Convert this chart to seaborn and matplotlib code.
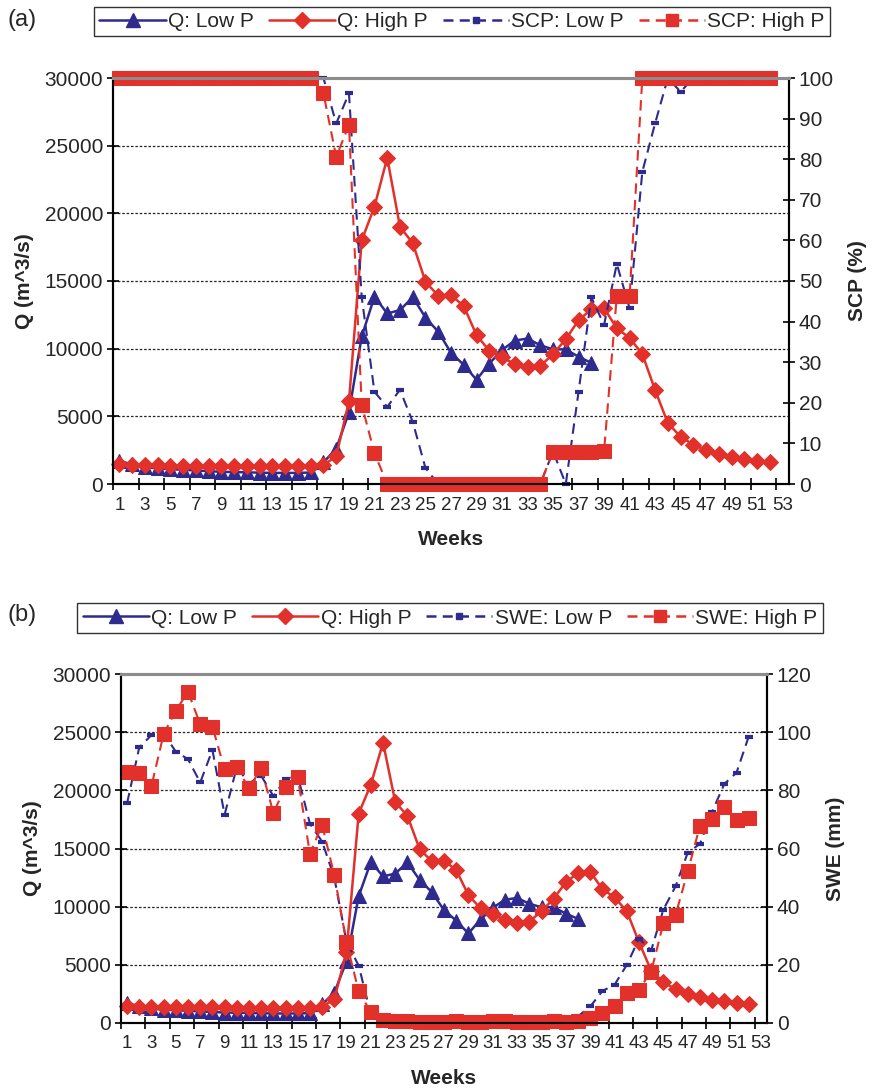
import numpy as np
import pandas as pd
import matplotlib
matplotlib.use("Agg")
import matplotlib.pyplot as plt
from matplotlib.lines import Line2D
import seaborn as sns

# ---------------- data ----------------
weeks = list(range(1, 53))
weeks_low = list(range(1, 39))
xtick_labels = [str(w) for w in range(1, 54, 2)]

q_low = [1700, 1450, 1250, 1150, 1100, 1050, 1000, 950, 900, 880, 860, 840, 820, 820, 820, 850,
         1600, 2600, 5300, 10900, 13850, 12600, 12850, 13800, 12300, 11250, 9700, 8800, 7700,
         8900, 9900, 10600, 10750, 10250, 9950, 9950, 9400, 8950]
q_high = [1450, 1400, 1380, 1370, 1360, 1350, 1350, 1340, 1340, 1330, 1330, 1320, 1320, 1320, 1320, 1320,
          1400, 2050, 6100, 18000, 20500, 24100, 19000, 17800, 14950, 13900, 13950, 13150, 11000,
          9850, 9350, 8870, 8620, 8720, 9600, 10700, 12100, 12900, 13000, 11500, 10800, 9600,
          6950, 4500, 3500, 2900, 2500, 2200, 2000, 1850, 1700, 1600]
scp_low = [100, 100, 100, 100, 100, 100, 100, 100, 100, 100, 100, 100, 100, 100, 100, 100, 100,
           88.8, 96.2, 46, 22.7, 19, 23.2, 15.3, 3.9, 0, 0, 0, 0, 0, 0, 0, 0, 0, 8, 0,
           22.7, 46, 39.2, 54.2, 43.3, 76.9, 88.8, 100, 96.6, 100, 100, 100, 100, 100, 100, 100]
scp_high = [100, 100, 100, 100, 100, 100, 100, 100, 100, 100, 100, 100, 100, 100, 100, 100,
            96.2, 80.6, 88.4, 19.5, 7.6, 0, 0, 0, 0, 0, 0, 0, 0, 0, 0, 0, 0, 0,
            8, 8, 7.8, 7.8, 8.1, 46.3, 46.3, 100, 100, 100, 100, 100, 100, 100, 100, 100, 100, 100]
swe_low = [75.6, 94.8, 99, 99.5, 93.3, 90.7, 82.7, 93.9, 71.6, 88, 82.4, 85, 78, 83.8, 85, 68.5,
           62.4, 50, 28, 19.7, 3, 0.5, 0.3, 0.3, 0.3, 0.3, 0.3, 0.3, 0.3, 0.3, 0.3, 0.3, 0.3,
           0.3, 0.3, 0.3, 0.5, 2.3, 5.7, 11, 13.2, 20, 29, 25, 39, 47, 58.6, 61.6, 72.7, 82.2,
           86.1, 98.5]
swe_high = [86.4, 86.1, 81.5, 99.4, 107.4, 113.9, 102.7, 101.9, 87.2, 87.9, 80.7, 87.6, 72.3, 81.1,
            84.5, 58.2, 68.1, 50.9, 27.7, 10.9, 3.7, 1.0, 0.8, 0.8, 0.5, 0.4, 0.5, 0.8, 0.4, 0.5,
            0.6, 0.7, 0.2, 0.4, 0.5, 0.6, 0.5, 0.8, 1.8, 3.4, 5.7, 10.3, 11.5, 17.7, 34.3, 37.2,
            52.1, 67.8, 70.1, 74.4, 69.8, 70.4]

# ---------------- style ----------------
sns.set_theme(style="white")
plt.rcParams["font.family"] = ["Liberation Sans", "DejaVu Sans"]
BLUE = "#2E2A8E"
RED = "#E2302A"

fig = plt.figure(figsize=(8.75, 10.92), dpi=100)
ax_a = fig.add_axes([113 / 875, 1 - 484 / 1092, (789 - 113) / 875, (484 - 78) / 1092])
ax_b = fig.add_axes([121 / 875, 1 - 1023 / 1092, (767 - 121) / 875, (1023 - 674) / 1092])


def style_axes(ax, ax2, rlabel, rmax, rstep):
    ax.set_xlim(0.5, 53.5)
    ax.set_ylim(0, 30000)
    ax2.set_ylim(0, rmax)
    ax.set_yticks(range(0, 30001, 5000))
    ax2.set_yticks(range(0, rmax + 1, rstep))
    ax.set_xticks(np.arange(0.5, 53.6, 2))
    ax.set_xticklabels([])
    ax.set_xticks(range(1, 54, 2), minor=True)
    ax.set_xticklabels(xtick_labels, minor=True,
                       fontfamily=["Liberation Sans Narrow", "Liberation Sans"], fontsize=13.5)
    ax.tick_params(axis="x", which="major", direction="inout", length=8, width=1.2, color="black",
                   bottom=True)
    ax.tick_params(axis="x", which="minor", length=0, pad=9, bottom=True)
    ax.tick_params(axis="y", direction="inout", length=8, width=1.2, color="black", labelsize=15,
                   left=True, pad=3)
    ax2.tick_params(axis="y", direction="inout", length=8, width=1.2, color="black", labelsize=15,
                    right=True, pad=3)
    for y in range(5000, 30000, 5000):
        ax.axhline(y, color="#222222", linestyle=(0, (2, 1.5)), linewidth=0.9, zorder=0)
    for a in (ax, ax2):
        for s in ("left", "right", "bottom"):
            a.spines[s].set_color("black")
            a.spines[s].set_linewidth(1.5)
        a.spines["top"].set_color("#8c8c8c")
        a.spines["top"].set_linewidth(2.2)
    ax.set_xlabel("Weeks", fontsize=15, fontweight="bold", labelpad=12)
    ax.set_ylabel("Q (m^3/s)", fontsize=15, fontweight="bold", labelpad=8)
    ax2.set_ylabel(rlabel, fontsize=15, fontweight="bold", labelpad=10)
    ax.grid(False)
    ax2.grid(False)


def draw_q(ax):
    sns.lineplot(x=weeks_low, y=q_low, ax=ax, color=BLUE, marker="^", markersize=10,
                 markeredgecolor=BLUE, linewidth=1.8, clip_on=False, legend=False)
    sns.lineplot(x=weeks, y=q_high, ax=ax, color=RED, marker="D", markersize=8.5,
                 markeredgecolor=RED, linewidth=1.8, clip_on=False, legend=False)


def draw_right(ax2, low, high):
    sns.lineplot(x=weeks, y=low, ax=ax2, color=BLUE, marker="_", markersize=6, markeredgewidth=3,
                 markeredgecolor=BLUE, linewidth=1.5, linestyle=(0, (5, 3)), clip_on=False,
                 legend=False)
    sns.lineplot(x=weeks, y=high, ax=ax2, color=RED, marker="s", markersize=9.5,
                 markeredgecolor=RED, linewidth=1.5, linestyle=(0, (5, 3)), clip_on=False,
                 legend=False)


def legend_handles(name):
    return [
        Line2D([], [], color=BLUE, marker="^", markersize=10, linewidth=1.8),
        Line2D([], [], color=RED, marker="D", markersize=8.5, linewidth=1.8),
        Line2D([], [], color=BLUE, marker="s", markersize=4, linewidth=1.8, linestyle=(0, (4, 2.5))),
        Line2D([], [], color=RED, marker="s", markersize=9, linewidth=1.8, linestyle=(0, (4, 2.5))),
    ], ["Q: Low P", "Q: High P", f"{name}: Low P", f"{name}: High P"]


# ---- panel (a)
ax_a2 = ax_a.twinx()
draw_q(ax_a)
draw_right(ax_a2, scp_low, scp_high)
style_axes(ax_a, ax_a2, "SCP (%)", 100, 10)

# ---- panel (b)
ax_b2 = ax_b.twinx()
draw_q(ax_b)
draw_right(ax_b2, swe_low, swe_high)
style_axes(ax_b, ax_b2, "SWE (mm)", 120, 20)

for name, yc, xc in (("SCP", 21.5, 462), ("SWE", 618, 450)):
    h, l = legend_handles(name)
    leg = fig.legend(h, l, loc="center", bbox_to_anchor=(xc / 875, 1 - yc / 1092), ncol=4,
                     fontsize=15, frameon=True, fancybox=False, handlelength=3.2,
                     handletextpad=0.1, columnspacing=0.7, borderpad=0.25, borderaxespad=0)
    leg.get_frame().set_edgecolor("black")
    leg.get_frame().set_linewidth(1.0)

fig.text(22 / 875, 1 - 20 / 1092, "(a)", fontsize=17, ha="center", va="center")
fig.text(22 / 875, 1 - 615 / 1092, "(b)", fontsize=17, ha="center", va="center")

fig.savefig("out.png", dpi=100)
